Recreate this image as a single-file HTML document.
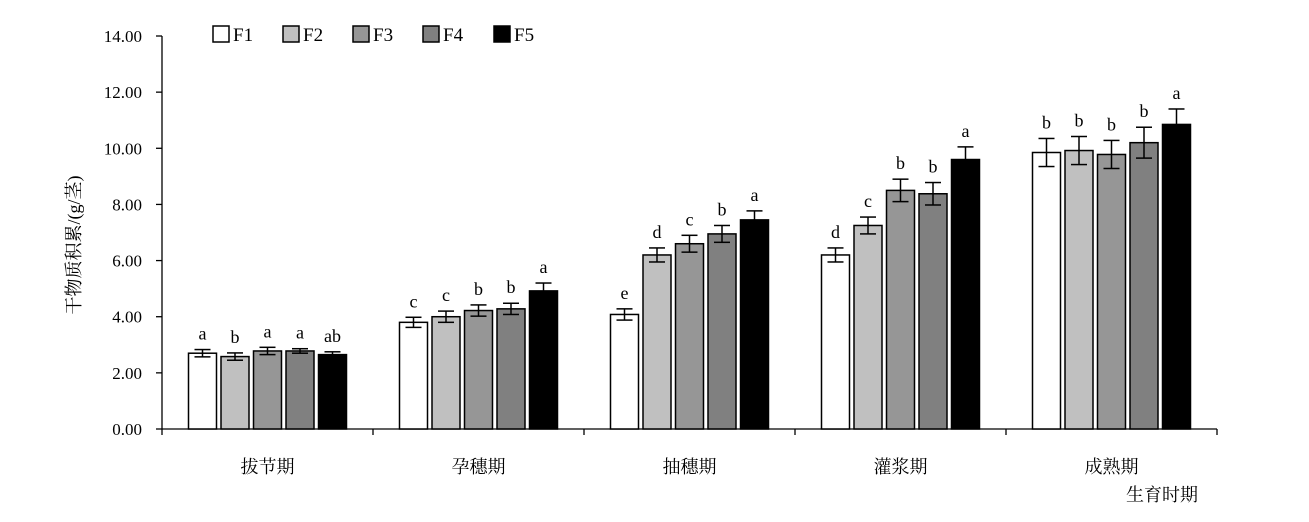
<!DOCTYPE html>
<html><head><meta charset="utf-8"><style>
body{margin:0;background:#fff;}
svg text{font-family:"Liberation Serif","Noto Serif CJK SC","Noto Sans CJK SC",serif;fill:#000;}
</style></head><body>
<svg id="chart" width="1309" height="517" xmlns="http://www.w3.org/2000/svg"></svg>
<script>
const categories=["拔节期","孕穗期","抽穗期","灌浆期","成熟期"];
const seriesNames=["F1","F2","F3","F4","F5"];
const fills=["#ffffff","#c0c0c0","#969696","#808080","#000000"];
const F1=[2.70,3.80,4.08,6.20,9.85];
const F2=[2.58,4.00,6.20,7.25,9.92];
const F3=[2.78,4.22,6.60,8.50,9.78];
const F4=[2.78,4.28,6.95,8.38,10.20];
const F5=[2.65,4.92,7.45,9.60,10.85];
const E1=[0.13,0.18,0.20,0.25,0.50];
const E2=[0.13,0.20,0.25,0.30,0.50];
const E3=[0.13,0.20,0.30,0.40,0.50];
const E4=[0.08,0.20,0.30,0.40,0.55];
const E5=[0.10,0.28,0.32,0.45,0.55];
const L1=["a","c","e","d","b"];
const L2=["b","c","d","c","b"];
const L3=["a","b","c","b","b"];
const L4=["a","b","b","b","b"];
const L5=["ab","a","a","a","a"];
const yTicks=[0,2,4,6,8,10,12,14];
const values=[F1,F2,F3,F4,F5],errs=[E1,E2,E3,E4,E5],letters=[L1,L2,L3,L4,L5];
const svg=document.getElementById('chart');const NS="http://www.w3.org/2000/svg";
const x0=162,x1=1217,yb=429,yt=36;
const y=v=>yb-(v/14)*(yb-yt);
const cw=(x1-x0)/categories.length;
const bw=28,step=32.5;
function mk(t,a,p){const e=document.createElementNS(NS,t);for(const k in a)e.setAttribute(k,a[k]);(p||svg).appendChild(e);return e;}
// axes
let ax=mk('line',{x1:x0,y1:yt,x2:x0,y2:yb,stroke:'#000','stroke-width':1.3});

let bx=mk('line',{x1:x0,y1:yb,x2:x1,y2:yb,stroke:'#000','stroke-width':1.3});

yTicks.forEach(t=>{mk('line',{x1:x0-6,y1:y(t),x2:x0,y2:y(t),stroke:'#000','stroke-width':1.3});
 const tx=mk('text',{x:x0-20,y:y(t)+6,'text-anchor':'end','font-size':17});tx.textContent=t.toFixed(2);
 });
for(let i=0;i<=categories.length;i++){mk('line',{x1:x0+i*cw,y1:yb,x2:x0+i*cw,y2:yb+6,stroke:'#000','stroke-width':1.3});}
categories.forEach((c,i)=>{const cx=x0+(i+0.5)*cw;
 const tx=mk('text',{x:cx,y:473,'text-anchor':'middle','font-size':18});tx.textContent=c;
 
 values.forEach((s,j)=>{const bxl=cx+(j-2)*step-bw/2;const v=s[i],e=errs[j][i];
  const r=mk('rect',{x:bxl,y:y(v),width:bw,height:yb-y(v),fill:fills[j],stroke:'#000','stroke-width':1.5});
  
  const m=bxl+bw/2;
  mk('line',{x1:m,y1:y(v+e),x2:m,y2:y(v-e),stroke:j==4?'#000':'#000','stroke-width':1.5});
  if(j==4)mk('line',{x1:m,y1:y(v),x2:m,y2:y(v-e),stroke:'#fff','stroke-width':0});
  mk('line',{x1:m-8,y1:y(v+e),x2:m+8,y2:y(v+e),stroke:'#000','stroke-width':1.5});
  mk('line',{x1:m-8,y1:y(v-e),x2:m+8,y2:y(v-e),stroke:'#000','stroke-width':1.5});
  const lt=mk('text',{x:m,y:y(v+e)-10,'text-anchor':'middle','font-size':18});lt.textContent=letters[j][i];
  
 });});
// legend
const lx=[213,283,353,423,494];
seriesNames.forEach((n,j)=>{mk('rect',{x:lx[j],y:26,width:16,height:16,fill:fills[j],stroke:'#000','stroke-width':1.5});
 const t=mk('text',{x:lx[j]+20,y:41,'font-size':19});t.textContent=n;
 });
const yt2=mk('text',{x:0,y:0,'font-size':18,'text-anchor':'middle',transform:'translate(80,245) rotate(-90)'});yt2.textContent='干物质积累/(g/茎)';

const xt=mk('text',{x:1162,y:501,'font-size':18,'text-anchor':'middle'});xt.textContent='生育时期';

</script>
</body></html>
